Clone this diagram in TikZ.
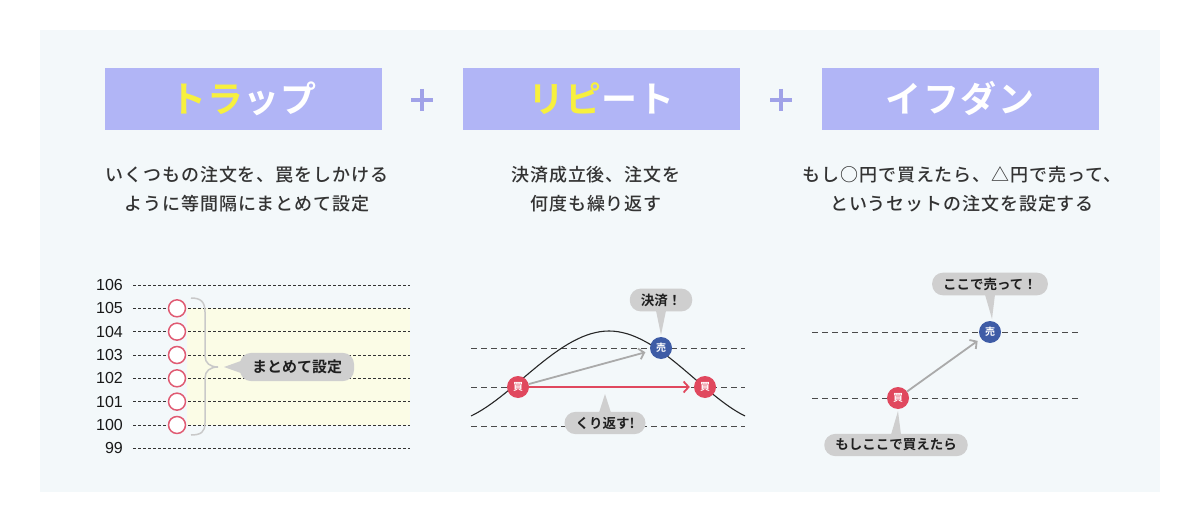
\documentclass[tikz,border=0pt]{standalone}
\usepackage{fontspec}
\setmainfont{Noto Sans CJK JP}[BoldFont={Noto Sans CJK JP Bold}]
\newfontfamily\descfont{Noto Sans CJK JP Medium}
\newfontfamily\numfont{Liberation Sans}
\usetikzlibrary{arrows.meta}
\definecolor{bgpanel}{HTML}{F3F8FA}
\definecolor{titlebg}{HTML}{B1B5F6}
\definecolor{titleyel}{HTML}{F7F03E}
\definecolor{plusc}{HTML}{A0A2E8}
\definecolor{desctext}{HTML}{333333}
\definecolor{bubblec}{HTML}{CFCFCF}
\definecolor{buyred}{HTML}{E0485E}
\definecolor{sellblue}{HTML}{3E5CA6}
\definecolor{arrowgray}{HTML}{AAAAAA}
\definecolor{bandyel}{HTML}{FBFCE6}
\definecolor{ringred}{HTML}{E05A72}
\definecolor{bracegray}{HTML}{C9C9C9}
\definecolor{linegray}{HTML}{4A4A4A}
\tikzset{
  titlebox/.style={fill=titlebg, minimum width=277pt, minimum height=62pt, inner sep=0pt,
    font=\fontsize{36}{40}\selectfont\bfseries\addfontfeatures{LetterSpace=4}, text=white},
  desc/.style={align=center, text=desctext, inner sep=0pt,
    font=\descfont\fontsize{18}{29}\selectfont\addfontfeatures{LetterSpace=5}},
  pricelbl/.style={anchor=east, inner sep=0pt, font=\numfont\fontsize{16}{18}\selectfont, text=black!90},
  gridA/.style={black!80, line width=0.8pt, dash pattern=on 3pt off 2pt},
  gridB/.style={linegray, line width=1pt, dash pattern=on 6pt off 4pt},
  trap/.style={circle, draw=ringred, line width=1.5pt, fill=white, minimum size=17pt, inner sep=0pt},
  buy/.style={circle, fill=buyred, minimum size=22pt, inner sep=0pt, text=white,
    font=\fontsize{10}{10}\selectfont\bfseries},
  sell/.style={circle, fill=sellblue, minimum size=22pt, inner sep=0pt, text=white,
    font=\fontsize{10}{10}\selectfont\bfseries},
  bubble/.style={fill=bubblec, rounded corners=11pt, inner xsep=11pt, inner ysep=5pt, text=black!88,
    font=\fontsize{13.5}{15}\selectfont\bfseries},
  bigbubble/.style={bubble, inner xsep=12pt, inner ysep=7pt, font=\fontsize{15}{17}\selectfont\bfseries},
  grayarrow/.style={arrowgray, line width=1.8pt, -{Straight Barb[length=5pt,width=11pt]}, shorten >=4pt},
  redarrow/.style={buyred, line width=1.8pt, -{Straight Barb[length=5pt,width=11pt]}, shorten >=4pt},
  curvec/.style={black!85, line width=1.1pt},
  plussign/.style={plusc, line width=4pt}
}
\begin{document}
\begin{tikzpicture}[x=1pt,y=-1pt]
\useasboundingbox (0,0) rectangle (1200,524);
\fill[white] (0,0) rectangle (1200,524);
\fill[bgpanel] (40,30) rectangle (1160,492);

% titles
\node[titlebox] (t1) at (243.5,99) {\textcolor{titleyel}{トラ}ップ};
\node[titlebox] (t2) at (601.5,99) {\textcolor{titleyel}{リピ}ート};
\node[titlebox] (t3) at (960,99) {イフダン};
\draw[plussign] (411,100) -- (433,100) (422,89) -- (422,111);
\draw[plussign] (770,100) -- (792,100) (781,89) -- (781,111);

% descriptions
\node[desc] (d1) at (247,189) {いくつもの注文を、罠をしかける\\ように等間隔にまとめて設定};
\node[desc] (d2) at (596,189) {決済成立後、注文を\\何度も繰り返す};
\node[desc] (d3) at (962,189) {もし○円で買えたら、△円で売って、\\というセットの注文を設定する};

% panel 1
\fill[bandyel] (187,308.3) rectangle (410,425);
\foreach \v in {106,105,104,103,102,101,100,99} {
  \pgfmathsetmacro{\yy}{285+23.33*(106-\v)}
  \node[pricelbl] (p\v) at (123,\yy) {\v};
  \draw[gridA] (133,\yy) -- (410,\yy);
}
\foreach \v in {105,104,103,102,101,100} {
  \pgfmathsetmacro{\yy}{285+23.33*(106-\v)}
  \node[trap] (c\v) at (177,\yy) {};
}
\draw[bracegray, line width=1.5pt] (191,298) .. controls (201,298) and (205,302) .. (205,312)
  -- (205,356) .. controls (205,363) and (210,367) .. (218,367)
  .. controls (210,367) and (205,371) .. (205,378)
  -- (205,423) .. controls (205,432) and (201,435) .. (191,435);
\node[bigbubble] (b1) at (297,367) {まとめて設定};
\coordinate (b1tip) at (224,367);
\fill[bubblec] ([xshift=1pt,yshift=6pt]b1.west) -- (b1tip) -- ([xshift=1pt,yshift=-6pt]b1.west) -- cycle;

% panel 2
\foreach \yy in {348,387,426} { \draw[gridB] (471,\yy) -- (745,\yy); }
\draw[curvec] (471,416) .. controls (515,395) and (560,331) .. (609,331)
  .. controls (658,331) and (702,395) .. (745,416);
\node[buy] (buy1) at (518,387) {買};
\node[buy] (buy2) at (705,387) {買};
\node[sell] (sell1) at (661,348) {売};
\draw[redarrow] (buy1) -- (buy2);
\draw[grayarrow, shorten >=5pt] (buy1) -- (sell1);
\node[bubble] (b2) at (661,300) {決済！};
\coordinate (b2tip) at (661,335);
\fill[bubblec] ([xshift=-5pt,yshift=1pt]b2.south) -- (b2tip) -- ([xshift=5pt,yshift=1pt]b2.south) -- cycle;
\node[bubble] (b3) at (605,423) {くり返す!};
\coordinate (b3tip) at (605,394);
\fill[bubblec] ([xshift=-6pt,yshift=-1pt]b3.north) -- (b3tip) -- ([xshift=6pt,yshift=-1pt]b3.north) -- cycle;

% panel 3
\foreach \yy in {332,398} { \draw[gridB] (812,\yy) -- (1080,\yy); }
\node[buy] (buy3) at (898,398) {買};
\node[sell] (sell2) at (990,332) {売};
\draw[grayarrow] (buy3) -- (sell2);
\node[bubble] (b4) at (990,284) {ここで売って！};
\coordinate (b4tip) at (992,319);
\fill[bubblec] ([xshift=-5pt,yshift=1pt]b4.south) -- (b4tip) -- ([xshift=5pt,yshift=1pt]b4.south) -- cycle;
\node[bubble] (b5) at (896,445) {もしここで買えたら};
\coordinate (b5tip) at (898,411);
\fill[bubblec] ([xshift=-5pt,yshift=-1pt]b5.north) -- (b5tip) -- ([xshift=5pt,yshift=-1pt]b5.north) -- cycle;
\end{tikzpicture}
\end{document}
